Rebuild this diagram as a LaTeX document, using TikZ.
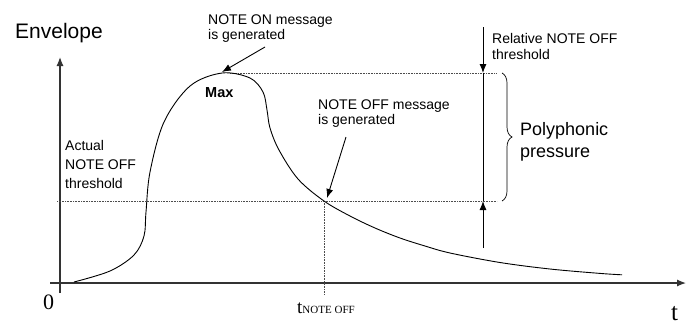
\documentclass[tikz,border=0pt]{standalone}
\usepackage{fontspec}
\setmainfont{Liberation Sans}
\newfontfamily\timesfont{Liberation Serif}
\usetikzlibrary{arrows.meta,decorations.pathreplacing}

\tikzset{
	axisline/.style={line width=1.2pt, black!80},
	guide/.style={line width=.5pt, black!70, dash pattern=on .8pt off .8pt},
	pointer/.style={line width=.9pt, -{Latex[length=9pt,width=7pt]}},
	label/.style={inner sep=0pt, anchor=base west, align=left, font=\fontsize{14}{16}\selectfont},
}

\begin{document}
\begin{tikzpicture}[x=1pt, y=-1pt]
	\useasboundingbox (0,0) rectangle (692,325);

	% axes
	\coordinate (xstart) at (50,283);
	\coordinate (xend) at (686,283);
	\coordinate (ystart) at (60,293);
	\coordinate (yend) at (60,57);
	\draw[axisline, -{Latex[length=9pt,width=7pt]}] (xstart) to (xend);
	\draw[axisline, -{Latex[length=9pt,width=7pt]}] (ystart) to (yend);

	\node[label, font=\fontsize{21}{24}\selectfont] (envelope) at (15,38){Envelope};
	\node[inner sep=0pt, anchor=base west, font=\timesfont\fontsize{22}{24}\selectfont] (zero) at (43,309){0};
	\node[inner sep=0pt, anchor=base west, font=\timesfont\fontsize{25}{28}\selectfont] (tlabel) at (671,320){t};
	\node[inner sep=0pt, anchor=base west] (toff) at (297,313){\timesfont\fontsize{19}{20}\selectfont t\fontsize{11}{12}\selectfont NOTE OFF};

	% thresholds
	\coordinate (maxleft) at (230,73);
	\coordinate (maxright) at (497,73);
	\coordinate (offleft) at (57,201);
	\coordinate (offright) at (497,201);
	\coordinate (offtop) at (324,201);
	\coordinate (offbot) at (324,295);
	\draw[guide] (maxleft) to (maxright);
	\draw[guide] (offleft) to (offright);
	\draw[guide] (offtop) to (offbot);

	% envelope curve
	\draw[line width=.9pt] plot[smooth, tension=.55] coordinates{
		(74,282) (110,271) (134,255) (144,236) (146,212) (150,172) (164,122)
		(190,86) (222,73) (250,78) (263,92) (267,110) (270,128) (279,150)
		(298,179) (324,201) (350,216) (375,228) (400,238) (425,246) (450,253)
		(500,262.5) (550,269) (600,273.4) (622,274.8)};

	% relative threshold marker
	\coordinate (reltop) at (483,27);
	\coordinate (relhi) at (483,73);
	\coordinate (rello) at (483,201);
	\coordinate (relbot) at (483,248);
	\draw[pointer] (reltop) to (relhi);
	\draw[line width=.9pt] (relhi) to (rello);
	\draw[pointer] (relbot) to (rello);
	\draw[line width=.7pt, decorate, decoration={brace, amplitude=10pt}] (502,73) to (502,201);

	\node[label] (relative) at (492,59){Relative NOTE OFF\\threshold};
	\node[label, font=\fontsize{18}{22}\selectfont] (pressure) at (520,157){Polyphonic\\pressure};
	\node[label, font=\fontsize{14}{19}\selectfont] (actual) at (65,188){Actual\\NOTE OFF\\threshold};
	\node[label, font=\bfseries\fontsize{14.5}{16}\selectfont] (max) at (205,97){Max};

	% messages
	\node[label, font=\fontsize{14}{15}\selectfont] (onmsg) at (208,39){NOTE ON message\\is generated};
	\node[label, font=\fontsize{14}{15}\selectfont] (offmsg) at (318,124){NOTE OFF message\\is generated};
	\coordinate (onfrom) at (265,47);
	\coordinate (onto) at (222,72);
	\coordinate (offfrom) at (346,137);
	\coordinate (offto) at (327,198);
	\draw[pointer] (onfrom) to (onto);
	\draw[pointer] (offfrom) to (offto);
\end{tikzpicture}
\end{document}
